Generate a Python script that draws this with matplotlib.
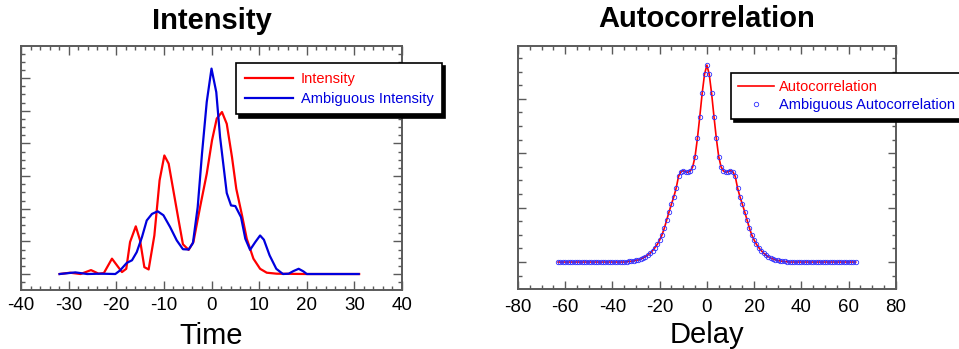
"""
Intensity and autocorrelation of a retrieved pulse vs. its ambiguous twin.
"""

import matplotlib
matplotlib.use("Agg")
import matplotlib.pyplot as plt
from matplotlib.ticker import MultipleLocator

plt.rcParams["font.family"] = ["Liberation Sans", "DejaVu Sans"]
plt.rcParams["axes.unicode_minus"] = False

# --- data ------------------------------------------------------------------
time_red = [-31.9, -29.7, -27.5, -25.3, -23.7, -22.6, -20.9, -18.8, -17.9,
            -17.1, -15.9, -15.0, -14.1, -13.2, -12.0, -10.9, -9.9, -9.0,
            -8.0, -6.9, -6.0, -4.8, -3.8, -2.4, -1.0, 0.1, 1.1, 2.2, 3.2,
            4.3, 5.2, 6.4, 7.4, 8.8, 10.2, 11.6, 13.7, 20.0, 31.0]
intensity = [0.0, 0.004, 0.0, 0.012, 0.001, 0.003, 0.047, 0.006, 0.016,
             0.098, 0.146, 0.103, 0.021, 0.014, 0.118, 0.287, 0.363, 0.338,
             0.255, 0.164, 0.091, 0.074, 0.098, 0.205, 0.307, 0.409, 0.476,
             0.496, 0.460, 0.358, 0.261, 0.180, 0.108, 0.047, 0.016, 0.004,
             0.001, 0.0, 0.0]

time_blue = [-31.9, -28.6, -26.1, -23.3, -20.2, -19.2, -17.8, -16.7, -15.7,
             -14.6, -13.6, -12.5, -11.3, -10.1, -8.7, -7.3, -6.0, -4.8, -3.9,
             -2.9, -2.0, -1.0, 0.0, 1.0, 1.8, 3.2, 4.1, 5.0, 6.2, 7.1, 8.1,
             9.2, 10.2, 11.0, 12.2, 13.6, 15.0, 16.2, 17.2, 18.3, 19.3, 20.0,
             30.9]
ambiguous_intensity = [0.0, 0.005, 0.0, 0.001, 0.0, 0.011, 0.034, 0.042,
                       0.067, 0.113, 0.164, 0.184, 0.192, 0.180, 0.144, 0.103,
                       0.076, 0.075, 0.095, 0.205, 0.368, 0.527, 0.629, 0.557,
                       0.419, 0.248, 0.210, 0.208, 0.174, 0.108, 0.074, 0.098,
                       0.118, 0.105, 0.057, 0.016, 0.0, 0.001, 0.009, 0.016,
                       0.008, 0.0, 0.0]

delay = list(range(-63, 64))
autocorrelation = (
    [0.0] * 29
    + [0.001, 0.002, 0.003, 0.004, 0.006, 0.008, 0.011, 0.015, 0.020, 0.026,
       0.033, 0.042, 0.053, 0.065, 0.081, 0.100, 0.125, 0.155, 0.185, 0.213,
       0.240, 0.272, 0.315, 0.332, 0.336, 0.332, 0.330, 0.335, 0.350, 0.388,
       0.455, 0.535, 0.620, 0.690]
    + [0.724]
    + [0.690, 0.620, 0.535, 0.455, 0.388, 0.350, 0.335, 0.330, 0.332, 0.336,
       0.332, 0.315, 0.272, 0.240, 0.213, 0.185, 0.155, 0.125, 0.100, 0.081,
       0.065, 0.053, 0.042, 0.033, 0.026, 0.020, 0.015, 0.011, 0.008, 0.006,
       0.004, 0.003, 0.002, 0.001]
    + [0.0] * 29
)
ambiguous_autocorrelation = list(autocorrelation)

RED = "#ff0000"
BLUE = "#0000dd"
SPINE = "#5a5a5a"


def style_axes(ax, xmaj, xmin, ymaj, ymin, major_len=6.5, pad=5):
    for spine in ax.spines.values():
        spine.set_color(SPINE)
        spine.set_linewidth(1.4)
    ax.xaxis.set_major_locator(MultipleLocator(xmaj))
    ax.xaxis.set_minor_locator(MultipleLocator(xmin))
    ax.yaxis.set_major_locator(MultipleLocator(ymaj))
    ax.yaxis.set_minor_locator(MultipleLocator(ymin))
    ax.tick_params(which="both", direction="in", top=True, right=True,
                   labelleft=False, color=SPINE, width=1.0)
    ax.tick_params(which="major", length=major_len, labelsize=13.5, pad=pad)
    ax.tick_params(which="minor", length=3)


fig = plt.figure(figsize=(9.59, 3.49), dpi=100)

# left: intensity
ax1 = fig.add_axes([0.0219, 0.169, 0.3973, 0.699])
ax1.plot(time_red, intensity, color=RED, lw=1.6, label="Intensity")
ax1.plot(time_blue, ambiguous_intensity, color=BLUE, lw=1.6,
         label="Ambiguous Intensity")
ax1.set_xlim(-40, 40)
ax1.set_ylim(-0.049, 0.698)
style_axes(ax1, 10, 2, 0.1, 0.025, pad=5)
ax1.set_title("Intensity", fontsize=21, fontweight="bold", pad=12)
ax1.set_xlabel("Time", fontsize=21, labelpad=6)
leg1 = ax1.legend(loc="upper left", bbox_to_anchor=(0.564, 0.930),
                  borderaxespad=0, fontsize=10.5, handlelength=3.3,
                  handletextpad=0.55, labelspacing=0.4, borderpad=0.6,
                  fancybox=False, edgecolor="black", framealpha=1,
                  shadow={"ox": 2.2, "oy": -2.2, "color": "black", "alpha": 1})
leg1.get_frame().set_linewidth(1.2)
for text, color in zip(leg1.get_texts(), [RED, BLUE]):
    text.set_color(color)

# right: autocorrelation
ax2 = fig.add_axes([0.5401, 0.172, 0.394, 0.696])
ax2.plot(delay, autocorrelation, color=RED, lw=1.2, label="Autocorrelation",
         zorder=2)
ax2.plot(delay, ambiguous_autocorrelation, linestyle="none", marker="o",
         markersize=3.2, markerfacecolor="none", markeredgecolor="#3030ff",
         markeredgewidth=0.6, label="Ambiguous Autocorrelation", zorder=3)
ax2.set_xlim(-80, 80)
ax2.set_ylim(-0.099, 0.794)
style_axes(ax2, 20, 5, 0.2, 0.05, major_len=6, pad=7)
ax2.set_title("Autocorrelation", fontsize=21, fontweight="bold", pad=14)
ax2.set_xlabel("Delay", fontsize=21, labelpad=4)
leg2 = ax2.legend(loc="upper left", bbox_to_anchor=(0.563, 0.889),
                  borderaxespad=0, fontsize=10.5, handlelength=2.5,
                  handletextpad=0.3, labelspacing=0.25, borderpad=0.5,
                  numpoints=1, fancybox=False, edgecolor="black",
                  framealpha=1,
                  shadow={"ox": 2.2, "oy": -2.2, "color": "black", "alpha": 1})
leg2.get_frame().set_linewidth(1.2)
for text, color in zip(leg2.get_texts(), [RED, BLUE]):
    text.set_color(color)

fig.savefig("out.png", dpi=100)
